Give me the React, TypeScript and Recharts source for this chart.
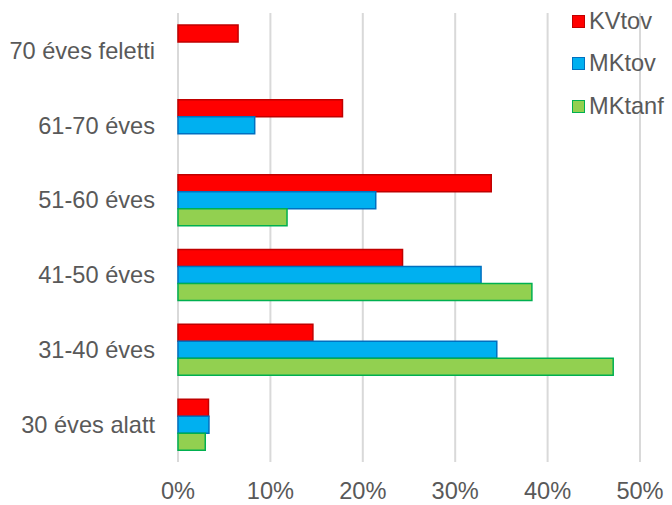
import React from 'react';
import { BarChart, Bar, XAxis, YAxis, CartesianGrid } from 'recharts';

const categories = ['70 éves feletti', '61-70 éves', '51-60 éves', '41-50 éves', '31-40 éves', '30 éves alatt'];
const kvTov = [6.5, 17.8, 33.9, 24.3, 14.6, 3.3];
const mkTov = [null, 8.3, 21.4, 32.8, 34.5, 3.35];
const mkTanf = [null, null, 11.8, 38.3, 47.1, 2.95];
const xTicks = [0, 10, 20, 30, 40, 50];

const series = [
  { key: 'KVtov', fill: '#FF0000', stroke: '#C00000' },
  { key: 'MKtov', fill: '#00B0F0', stroke: '#0070C0' },
  { key: 'MKtanf', fill: '#92D050', stroke: '#00B050' },
];

const data = categories.map((name, i) => ({
  name,
  KVtov: kvTov[i],
  MKtov: mkTov[i],
  MKtanf: mkTanf[i],
}));

const FONT = 'Arial, "Liberation Sans", sans-serif';
const TEXT = '#595959';
const FS = 23.6;

// legend drawn over the plot, like in the original
const LegendBox = () => (
  <div
    style={{
      position: 'absolute',
      left: 572,
      top: 0,
      fontFamily: FONT,
      fontSize: FS,
      color: TEXT,
    }}
  >
    {series.map((s) => (
      <div key={s.key} style={{ display: 'flex', alignItems: 'center', height: 42.5 }}>
        <span
          style={{
            display: 'inline-block',
            width: 11,
            height: 11,
            background: s.fill,
            border: `1.5px solid ${s.stroke}`,
            marginRight: 4,
          }}
        />
        <span>{s.key}</span>
      </div>
    ))}
  </div>
);

export default function App() {
  return (
    <div style={{ position: 'absolute', left: 0, top: 0, width: 672, height: 505, background: '#fff' }}>
      <BarChart
        width={672}
        height={505}
        data={data}
        layout="vertical"
        margin={{ top: 13, right: 32, left: 0, bottom: 0 }}
        barCategoryGap="16%"
        barGap={0}
      >
        <CartesianGrid horizontal={false} stroke="#D9D9D9" strokeWidth={2} />
        <XAxis
          type="number"
          domain={[0, 50]}
          ticks={xTicks}
          tickFormatter={(v) => `${v}%`}
          axisLine={false}
          tickLine={false}
          tickSize={0}
          tickMargin={20}
          height={43}
          tick={{ fill: TEXT, fontSize: FS, fontFamily: FONT }}
        />
        <YAxis
          type="category"
          dataKey="name"
          width={178}
          axisLine={false}
          tickLine={false}
          tickSize={0}
          tickMargin={23}
          tick={{ fill: TEXT, fontSize: FS, fontFamily: FONT }}
        />
        {series.map((s) => (
          <Bar
            key={s.key}
            dataKey={s.key}
            fill={s.fill}
            stroke={s.stroke}
            strokeWidth={1.5}
            isAnimationActive={false}
          />
        ))}
      </BarChart>
      <LegendBox />
    </div>
  );
}
